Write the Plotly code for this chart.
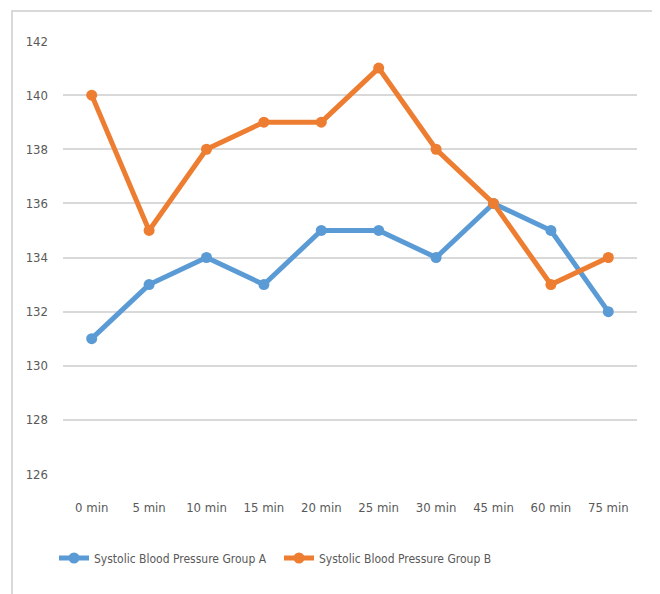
import plotly.graph_objects as go

categories = ["0 min", "5 min", "10 min", "15 min", "20 min", "25 min", "30 min", "45 min", "60 min", "75 min"]
group_a = [131, 133, 134, 133, 135, 135, 134, 136, 135, 132]
group_b = [140, 135, 138, 139, 139, 141, 138, 136, 133, 134]
y_ticks = [126, 128, 130, 132, 134, 136, 138, 140, 142]

FONT = "DejaVu Sans Condensed, Roboto, sans-serif"
GRAY = "#595959"
FS = 13

fig = go.Figure()
fig.add_trace(go.Scatter(x=categories, y=group_a, mode="lines+markers",
                         name="Systolic Blood Pressure Group A",
                         line=dict(color="#5B9BD5", width=5),
                         marker=dict(size=11, color="#5B9BD5")))
fig.add_trace(go.Scatter(x=categories, y=group_b, mode="lines+markers",
                         name="Systolic Blood Pressure Group B",
                         line=dict(color="#ED7D31", width=5),
                         marker=dict(size=11, color="#ED7D31")))

# page body has an ~8px margin; target positions below are in window pixels
OFF = 8
W, H = 660 - OFF, 594 - OFF
ml, mt = 63 - OFF, 41 - OFF
mr = W - (637 - OFF)
mb = H - (474 - OFF)
pw, ph = W - ml - mr, H - mt - mb

def px_x(x):
    return (x - OFF - ml) / pw

def px_y(y):
    return (H - mb - (y - OFF)) / ph

fig.update_layout(
    width=W, height=H,
    margin=dict(l=ml, r=mr, t=mt, b=mb),
    paper_bgcolor="white", plot_bgcolor="white",
    font=dict(family=FONT, size=FS, color=GRAY),
    showlegend=True,
    legend=dict(orientation="h", x=px_x(54), xanchor="left", y=px_y(558), yanchor="middle",
                font=dict(family=FONT, size=12, color=GRAY), itemwidth=30,
                entrywidth=180, entrywidthmode="pixels",
                bgcolor="rgba(0,0,0,0)"),
    xaxis=dict(type="category", range=[-0.5, 9.5], showgrid=False, zeroline=False,
               showline=False, ticks="", ticklabelstandoff=24,
               tickfont=dict(family=FONT, size=FS, color=GRAY)),
    yaxis=dict(range=[126, 142], tickvals=y_ticks, showgrid=True, gridcolor="#D9D9D9",
               gridwidth=1.5, zeroline=False, showline=False, ticks="",
               ticklabelstandoff=14,
               tickfont=dict(family=FONT, size=FS, color=GRAY)),
    shapes=[dict(type="rect", xref="paper", yref="paper",
                 x0=px_x(12), x1=px_x(656), y0=px_y(620), y1=px_y(11),
                 line=dict(color="#D9D9D9", width=2), fillcolor="rgba(0,0,0,0)",
                 layer="below")],
)

fig.write_html("out.html")
